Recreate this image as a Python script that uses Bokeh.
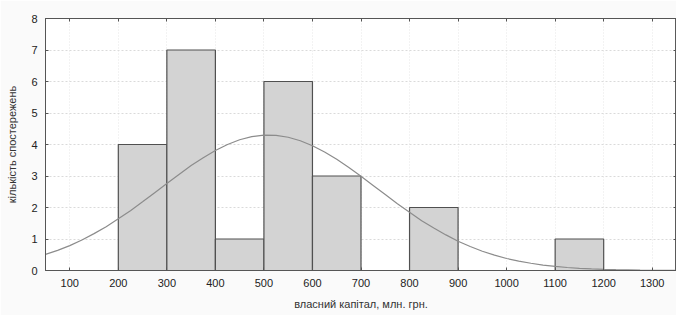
from bokeh.plotting import figure
from bokeh.models import LinearAxis, FixedTicker, Range1d
from bokeh.embed import file_html
from bokeh.resources import INLINE

# histogram bins (власний капітал, млн. грн.) and counts
bin_left = [200, 300, 400, 500, 600, 800, 1100]
bin_right = [300, 400, 500, 600, 700, 900, 1200]
counts = [4, 7, 1, 6, 3, 2, 1]

# fitted normal curve
curve_x = [50, 75, 100, 125, 150, 175, 200, 225, 250, 275, 300, 325, 350, 375,
           400, 425, 450, 475, 500, 525, 550, 575, 600, 625, 650, 675, 700, 725,
           750, 775, 800, 825, 850, 875, 900, 925, 950, 975, 1000, 1025, 1050,
           1075, 1100, 1125, 1150, 1175, 1200, 1225, 1250, 1275, 1300, 1325, 1350]
curve_y = [0.51, 0.64, 0.79, 0.97, 1.17, 1.39, 1.64, 1.90, 2.18, 2.47, 2.76, 3.05, 3.33, 3.58,
           3.81, 4.00, 4.15, 4.25, 4.30, 4.29, 4.23, 4.12, 3.96, 3.76, 3.53, 3.27, 2.99, 2.70,
           2.41, 2.12, 1.85, 1.58, 1.35, 1.13, 0.93, 0.76, 0.61, 0.49, 0.38, 0.30, 0.23,
           0.17, 0.13, 0.096, 0.07, 0.05, 0.036, 0.025, 0.018, 0.012, 0.008, 0.005, 0.004]

x_ticks = [100, 200, 300, 400, 500, 600, 700, 800, 900, 1000, 1100, 1200, 1300]
y_ticks = [0, 1, 2, 3, 4, 5, 6, 7, 8]

FONT = "Liberation Sans"

p = figure(width=676, height=315, output_backend="svg", toolbar_location=None,
           x_range=Range1d(50, 1350), y_range=Range1d(0, 8),
           min_border_left=45, min_border_right=0, min_border_top=18, min_border_bottom=45,
           background_fill_color="white", border_fill_color="#fafafa")

p.outline_line_color = "#606060"
p.outline_line_width = 1

p.xgrid.grid_line_color = "#e6e6e6"
p.xgrid.grid_line_dash = "1 2"
p.ygrid.grid_line_color = "#dadada"
p.ygrid.grid_line_dash = "2 2"
p.xgrid.ticker = FixedTicker(ticks=x_ticks)
p.ygrid.ticker = FixedTicker(ticks=y_ticks)

p.quad(left=bin_left, right=bin_right, bottom=0, top=counts,
       fill_color="#d3d3d3", line_color="#505050", line_width=1.2)
p.line(curve_x, curve_y, line_color="#8c8c8c", line_width=1.2)

def style_axis(ax, show_labels=True):
    ax.axis_line_color = "#555555"
    ax.axis_line_width = 1
    ax.major_tick_in = 3
    ax.major_tick_out = 0
    ax.major_tick_line_color = "#555555"
    ax.minor_tick_line_color = None
    ax.major_label_text_font = FONT
    ax.major_label_text_font_size = "11px"
    ax.major_label_text_color = "#222222"
    if not show_labels:
        ax.major_label_text_alpha = 0

p.xaxis.ticker = FixedTicker(ticks=x_ticks)
p.yaxis.ticker = FixedTicker(ticks=y_ticks)
style_axis(p.xaxis[0])
style_axis(p.yaxis[0])
p.xaxis.major_label_standoff = 8
p.yaxis.major_label_standoff = 8

p.xaxis.axis_label = "власний капітал, млн. грн."
p.yaxis.axis_label = "кількість спостережень"
for ax in (p.xaxis[0], p.yaxis[0]):
    ax.axis_label_text_font = FONT
    ax.axis_label_text_font_size = "11px"
    ax.axis_label_text_font_style = "normal"
    ax.axis_label_text_color = "#333333"
p.xaxis.axis_label_standoff = 8
p.yaxis.axis_label_standoff = 10

top_ax = LinearAxis(ticker=FixedTicker(ticks=x_ticks))
style_axis(top_ax, show_labels=False)
top_ax.major_label_text_font_size = "0px"
p.add_layout(top_ax, "above")

right_ax = LinearAxis(ticker=FixedTicker(ticks=y_ticks))
style_axis(right_ax, show_labels=False)
right_ax.major_label_text_font_size = "0px"
right_ax.axis_line_width = 2
p.add_layout(right_ax, "right")

open("out.html", "w").write(file_html(p, INLINE))
